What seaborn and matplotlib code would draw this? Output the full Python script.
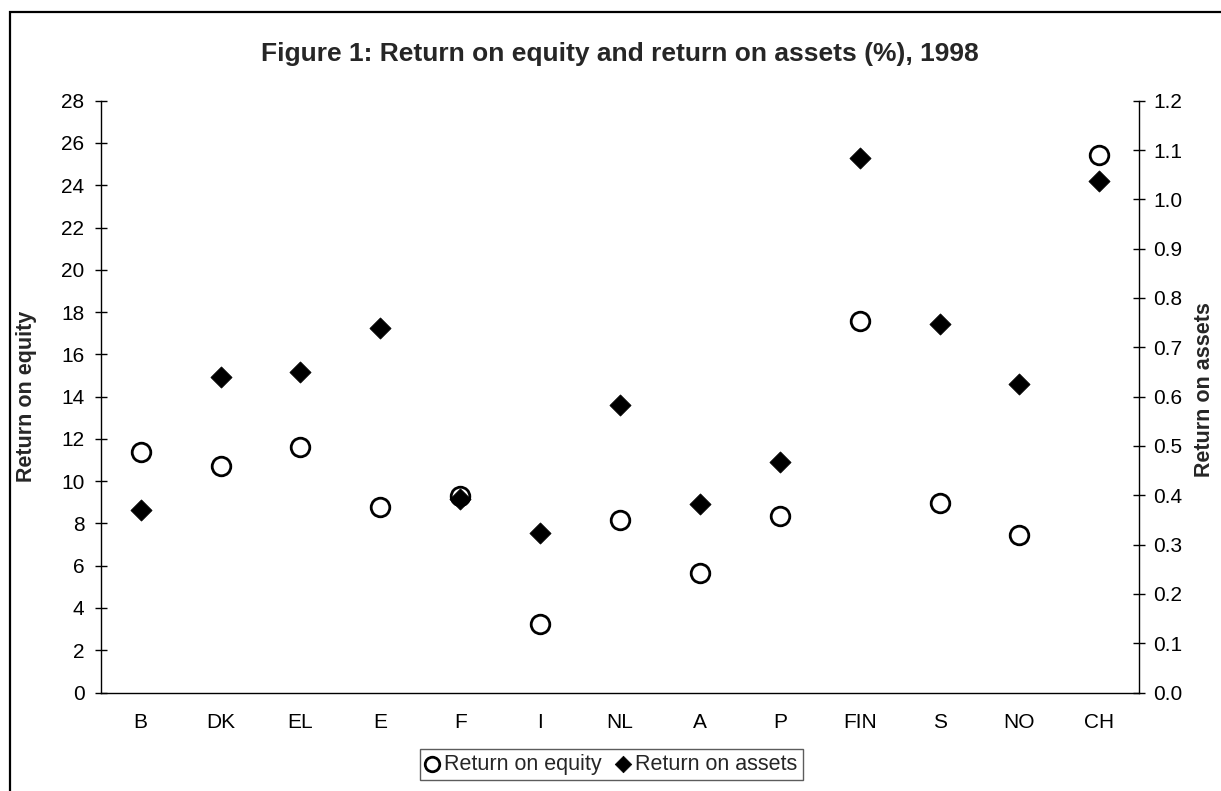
import numpy as np
import pandas as pd
import matplotlib
matplotlib.use("Agg")
import matplotlib.pyplot as plt
import matplotlib.ticker as mticker
from matplotlib.patches import Rectangle
import seaborn as sns

# ---- data ----
countries = ["B", "DK", "EL", "E", "F", "I", "NL", "A", "P", "FIN", "S", "NO", "CH"]
roe = [11.36, 10.71, 11.63, 8.76, 9.30, 3.24, 8.16, 5.64, 8.36, 17.59, 8.98, 7.45, 25.43]
roa = [0.370, 0.640, 0.649, 0.740, 0.392, 0.323, 0.582, 0.382, 0.467, 1.083, 0.747, 0.625, 1.038]
left_ticks = list(range(0, 29, 2))
right_ticks = [round(v * 0.1, 1) for v in range(0, 13)]
title = "Figure 1: Return on equity and return on assets (%), 1998"
label_roe = "Return on equity"
label_roa = "Return on assets"

df = pd.DataFrame({"country": countries, "roe": roe, "roa": roa})

sns.set_style("white")
plt.rcParams["font.family"] = ["Liberation Sans", "DejaVu Sans"]

W, H = 1221, 791
fig = plt.figure(figsize=(W / 100, H / 100), dpi=100)
ax = fig.add_axes([100.7 / W, 1 - 692.5 / H, (1139.3 - 100.7) / W, (692.5 - 100.7) / H])
ax.set_facecolor("none")

sns.scatterplot(data=df, x="country", y="roe", ax=ax, marker="o", s=13.4 ** 2,
                facecolor="white", edgecolor="black", linewidth=2.0,
                label=label_roe, legend=False, zorder=3)
ax2 = ax.twinx()
sns.scatterplot(data=df, x="country", y="roa", ax=ax2, marker="D", s=10.8 ** 2,
                color="black", edgecolor="black", linewidth=0.5,
                label=label_roa, legend=False, zorder=3)

# axes limits and ticks
ax.set_xlim(-0.5, len(countries) - 0.5)
ax.set_ylim(0, 28)
ax2.set_ylim(0, 1.2)
ax.set_xticks(range(len(countries)))
ax.set_xticklabels(countries)
ax.set_xticks(np.arange(-0.5, len(countries), 1.0), minor=True)
ax.set_yticks(left_ticks)
ax2.set_yticks(right_ticks)
ax2.yaxis.set_major_formatter(mticker.FormatStrFormatter("%.1f"))

ax.tick_params(axis="x", which="major", length=0, pad=15, labelsize=15, colors="black")
ax.tick_params(axis="x", which="minor", direction="inout", length=8.5, width=1.0, color="black")
ax.tick_params(axis="y", direction="inout", length=8.5, width=1.0, pad=7.5, labelsize=15,
               left=True, colors="black")
ax2.tick_params(axis="y", direction="inout", length=8.5, width=1.0, pad=6, labelsize=15,
                right=True, colors="black")

for a in (ax, ax2):
    for s in a.spines.values():
        s.set_visible(False)
        s.set_linewidth(1.0)
        s.set_color("black")
ax.spines["left"].set_visible(True)
ax.spines["bottom"].set_visible(True)
ax2.spines["right"].set_visible(True)

ax.set_xlabel("")
ax.set_ylabel("")
ax2.set_ylabel("")
ax.grid(False)
ax2.grid(False)

# labels and title
fig.text(27 / W, 1 - 396 / H, label_roe, rotation=90, ha="center", va="center",
         fontsize=15.5, fontweight="bold")
fig.text(1205 / W, 1 - 390 / H, label_roa, rotation=90, ha="center", va="center",
         fontsize=15.5, fontweight="bold")
fig.text(620 / W, 1 - 54 / H, title, ha="center", va="center", fontsize=19, fontweight="bold")

# legend
h1, l1 = ax.get_legend_handles_labels()
h2, l2 = ax2.get_legend_handles_labels()
leg = fig.legend(h1 + h2, l1 + l2, loc="center", bbox_to_anchor=(611.5 / W, 1 - 764.5 / H),
                 ncol=2, fontsize=15.5, frameon=True, fancybox=False, markerscale=0.78,
                 handlelength=0.6, handletextpad=0.25, columnspacing=0.7, borderpad=0.25,
                 borderaxespad=0)
leg.get_frame().set_edgecolor("#333333")
leg.get_frame().set_linewidth(1.0)

# outer border
fig.patches.append(Rectangle((10 / W, -0.1), 1.2, (1 - 12 / H) + 0.1,
                             transform=fig.transFigure, fill=False,
                             edgecolor="black", linewidth=1.6))

fig.savefig("out.png", dpi=100)
